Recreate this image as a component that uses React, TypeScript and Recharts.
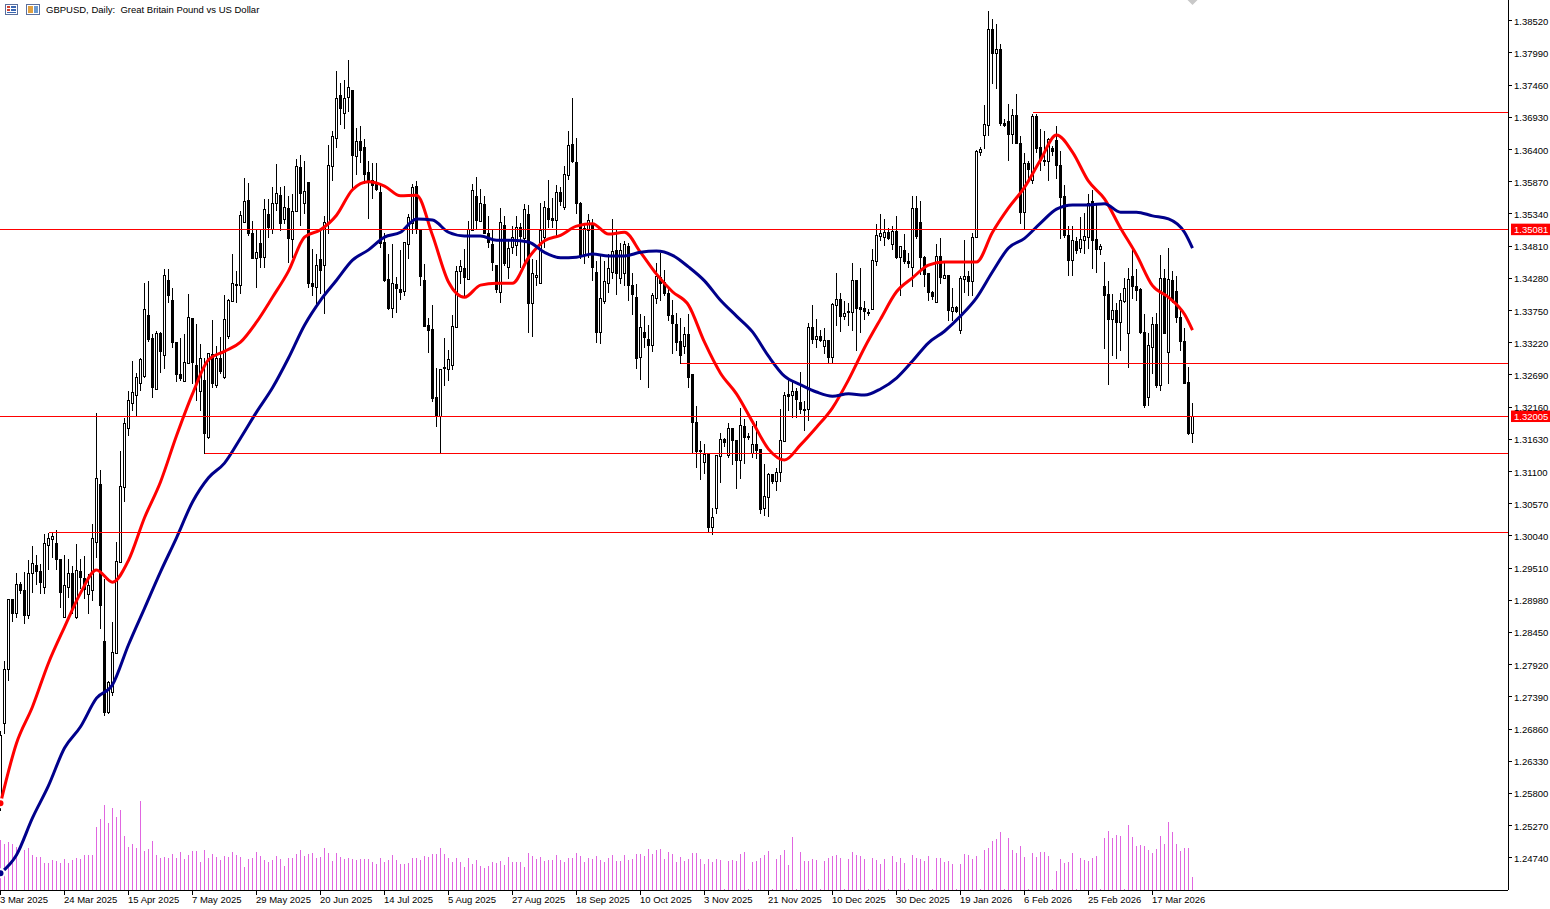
import React from "react";
import { ComposedChart, Bar, Line, XAxis, YAxis, ReferenceLine, ReferenceDot } from "recharts";

const SCALE = 10000;
const highs = [
12684,12799,12899,12899,12944,12929,12945,12965,12988,12973,
12959,13008,13010,13011,13015,12965,12973,12967,12955,12991,
12967,12972,12942,13024,13207,13113,12934,12766,12863,12995,
13145,13199,13243,13293,13273,13298,13421,13424,13337,13342,
13340,13444,13444,13413,13322,13331,13337,13403,13362,13354,
13321,13298,13304,13360,13317,13332,13401,13395,13469,13441,
13540,13594,13586,13523,13510,13510,13559,13559,13579,13617,
13579,13581,13564,13568,13625,13632,13622,13586,13477,13469,
13512,13531,13648,13671,13770,13750,13755,13788,13737,13676,
13679,13658,13622,13619,13619,13586,13503,13469,13485,13431,
13475,13487,13535,13584,13589,13508,13452,13363,13385,13281,
13278,13331,13311,13368,13449,13459,13477,13523,13584,13596,
13576,13564,13531,13510,13449,13545,13531,13494,13515,13531,
13520,13551,13549,13461,13459,13553,13556,13591,13561,13582,
13579,13614,13671,13726,13660,13554,13520,13535,13526,13457,
13466,13457,13469,13526,13510,13487,13490,13487,13438,13419,
13370,13367,13352,13405,13454,13470,13442,13416,13393,13372,
13363,13349,13370,13270,13219,13161,13156,13141,13051,13136,
13174,13166,13191,13182,13163,13215,13197,13174,13186,13194,
13146,13123,13108,13107,13117,13214,13242,13261,13260,13248,
13275,13227,13355,13385,13362,13344,13347,13326,13388,13438,
13405,13391,13388,13454,13426,13446,13391,13378,13477,13518,
13535,13526,13512,13515,13531,13480,13502,13470,13564,13564,
13556,13465,13438,13408,13485,13495,13457,13433,13413,13383,
13433,13492,13441,13503,13640,13645,13714,13869,13856,13847,
13814,13691,13716,13708,13732,13663,13635,13622,13699,13699,
13675,13671,13660,13647,13680,13638,13582,13515,13515,13497,
13530,13536,13568,13574,13549,13485,13456,13424,13403,13388,
13405,13429,13446,13477,13444,13413,13370,13339,13365,13372,
13467,13444,13479,13441,13433,13380,13347,13283,13224,
];
const lows = [
12552,12679,12766,12863,12870,12909,12860,12868,12911,12924,
12909,12909,12949,12968,12949,12886,12870,12903,12876,12868,
12917,12901,12876,12898,12968,12851,12708,12712,12741,12810,
12960,13061,13169,13210,13201,13243,13265,13324,13232,13245,
13273,13279,13388,13314,13258,13260,13258,13288,13255,13227,
13210,13140,13164,13248,13248,13271,13263,13329,13390,13388,
13403,13520,13498,13461,13413,13446,13446,13495,13502,13540,
13507,13518,13454,13462,13538,13515,13535,13413,13400,13387,
13403,13370,13502,13589,13643,13681,13675,13703,13577,13599,
13619,13584,13526,13559,13573,13479,13423,13377,13363,13372,
13393,13400,13461,13502,13502,13416,13349,13306,13225,13184,
13140,13252,13260,13278,13347,13419,13398,13426,13507,13508,
13521,13502,13479,13441,13405,13388,13449,13428,13469,13466,
13446,13452,13339,13332,13416,13419,13479,13512,13512,13495,
13548,13541,13591,13619,13535,13461,13452,13462,13424,13322,
13321,13387,13405,13428,13401,13419,13416,13391,13368,13279,
13261,13314,13248,13307,13387,13391,13400,13359,13304,13309,
13288,13304,13248,13140,13117,13097,13107,13010,13006,13041,
13092,13151,13133,13122,13082,13099,13123,13163,13133,13131,
13041,13038,13036,13090,13079,13094,13159,13210,13199,13199,
13205,13177,13194,13321,13314,13324,13304,13288,13288,13350,
13340,13360,13350,13342,13309,13339,13360,13367,13377,13449,
13490,13482,13492,13475,13461,13400,13452,13446,13415,13494,
13434,13415,13391,13393,13388,13419,13428,13359,13359,13372,
13337,13405,13400,13400,13495,13630,13642,13663,13749,13740,
13679,13678,13622,13650,13650,13518,13510,13589,13584,13635,
13605,13614,13589,13630,13592,13493,13495,13433,13433,13469,
13470,13469,13477,13444,13438,13467,13312,13253,13301,13296,
13309,13388,13281,13395,13391,13337,13215,13219,13271,13248,
13243,13337,13255,13388,13355,13309,13255,13171,13158,
];
const opens = [
12568,12695,12784,12899,12876,12924,12914,12873,12942,12955,
12945,12919,12988,12998,12991,12965,12870,12919,12942,12870,
12945,12934,12907,12914,12993,13089,12830,12713,12746,12810,
12960,13083,13181,13222,13235,13255,13266,13367,13329,13245,
13337,13301,13424,13391,13322,13270,13258,13288,13362,13285,
13242,13260,13166,13303,13252,13296,13265,13332,13390,13418,
13416,13520,13556,13502,13461,13485,13462,13533,13508,13551,
13564,13525,13543,13492,13538,13610,13551,13586,13419,13413,
13459,13449,13520,13612,13658,13729,13699,13726,13737,13628,
13653,13643,13602,13589,13582,13569,13487,13426,13378,13418,
13410,13406,13484,13518,13579,13508,13424,13350,13344,13232,
13201,13281,13278,13284,13347,13439,13444,13426,13507,13563,
13521,13549,13502,13484,13449,13405,13515,13446,13479,13482,
13512,13494,13533,13387,13429,13419,13495,13543,13526,13523,
13569,13545,13597,13648,13619,13551,13467,13507,13518,13438,
13339,13390,13419,13438,13474,13428,13436,13480,13416,13396,
13298,13339,13327,13317,13395,13429,13421,13403,13367,13352,
13324,13316,13335,13270,13191,13145,13125,13140,13018,13049,
13135,13163,13136,13181,13161,13128,13184,13168,13140,13154,
13146,13049,13067,13105,13094,13108,13159,13237,13235,13242,
13224,13212,13212,13347,13327,13332,13316,13326,13298,13383,
13393,13365,13373,13372,13424,13380,13378,13372,13377,13456,
13497,13495,13503,13484,13505,13462,13474,13456,13446,13543,
13520,13462,13436,13405,13388,13464,13428,13433,13373,13380,
13342,13426,13431,13423,13495,13635,13663,13679,13838,13798,
13805,13683,13686,13665,13696,13650,13536,13617,13589,13694,
13643,13622,13620,13642,13655,13614,13563,13498,13457,13489,
13477,13490,13495,13554,13492,13475,13415,13401,13360,13375,
13355,13390,13337,13431,13415,13410,13339,13232,13314,13352,
13252,13428,13306,13424,13406,13363,13324,13257,13173,
];
const closes = [
12676,12784,12899,12876,12924,12914,12873,12942,12959,12945,
12927,12991,13000,13003,12965,12911,12922,12942,12884,12947,
12936,12916,12922,13000,13099,12889,12713,12763,12812,12962,
13085,13189,13227,13240,13265,13294,13377,13327,13248,13337,
13307,13433,13400,13322,13270,13263,13289,13363,13289,13255,
13296,13173,13304,13255,13296,13275,13360,13391,13419,13416,
13531,13555,13502,13461,13470,13462,13541,13512,13551,13568,
13518,13545,13493,13538,13612,13568,13571,13419,13415,13449,
13441,13520,13614,13661,13724,13708,13724,13742,13630,13653,
13638,13599,13586,13581,13574,13485,13424,13378,13419,13411,
13405,13487,13528,13577,13508,13431,13349,13342,13230,13201,
13278,13279,13294,13349,13439,13447,13429,13508,13573,13523,
13551,13502,13487,13454,13410,13520,13452,13477,13495,13512,
13497,13541,13387,13436,13433,13507,13545,13525,13523,13569,
13555,13599,13646,13620,13551,13466,13510,13523,13446,13339,
13395,13423,13444,13472,13436,13474,13484,13416,13401,13296,
13347,13331,13317,13400,13431,13419,13403,13367,13354,13322,
13301,13335,13265,13191,13143,13143,13138,13018,13034,13136,
13163,13158,13181,13161,13128,13186,13166,13166,13154,13145,
13047,13069,13105,13094,13108,13161,13235,13233,13242,13229,
13212,13210,13347,13327,13332,13326,13326,13298,13385,13393,
13365,13370,13372,13424,13378,13377,13373,13370,13457,13498,
13502,13503,13493,13505,13462,13480,13456,13452,13543,13497,
13462,13434,13405,13398,13464,13429,13433,13375,13380,13373,
13428,13431,13423,13495,13637,13640,13681,13838,13798,13805,
13683,13679,13665,13696,13650,13536,13617,13607,13694,13642,
13622,13620,13656,13637,13614,13561,13498,13457,13490,13474,
13492,13497,13551,13490,13475,13480,13400,13360,13375,13355,
13391,13411,13426,13415,13408,13339,13219,13317,13352,13252,
13428,13337,13426,13391,13363,13324,13255,13173,13201,
];
const volumes = [
5000,4600,4800,4600,4270,0,4000,4200,3500,3300,
3300,2700,2700,3000,2900,2700,3100,2700,3000,3200,
3100,3500,3500,3500,6300,7100,8500,6700,8200,7300,
8000,5400,4300,4600,4200,8900,3900,4100,4900,3500,
3200,3300,3200,3600,3200,3800,3100,3500,3900,3900,
2800,4000,3200,3600,3300,3000,3400,3300,3800,3500,
3300,2300,3100,3200,3800,3400,3000,2800,3000,3400,
3100,2400,3200,3200,3600,4000,3400,3600,3700,3200,
3300,4200,3700,2900,3700,3300,3100,3200,3100,3000,
3100,3100,3100,2800,2600,3200,2800,3000,3500,3000,
2600,2600,2700,3200,3200,3000,3400,3300,3600,3600,
4200,3600,3200,2800,3200,2800,2300,3200,2600,3000,
2400,2200,2400,2800,2700,2900,2500,3300,2800,2800,
2800,2300,3700,3400,3100,3300,2900,3000,3000,3500,
3000,2800,3200,3200,3700,3400,2800,3200,3100,3400,
3000,2800,3200,3500,2900,2900,3500,3000,3100,3600,
3600,3400,4100,3600,4000,4100,3100,3800,3600,2800,
3300,2900,3100,3700,3700,3100,2600,3100,2800,3100,
3000,100,2900,3000,2900,3600,3800,100,2800,2900,
3200,3500,3900,100,3100,3500,4000,2500,5300,100,
3800,2900,2900,3100,3000,100,2900,3200,3400,3500,
3200,100,3100,3800,3500,3400,3100,100,3200,3000,
2600,3100,100,3400,2800,3200,2700,100,3500,3200,
3100,2900,3400,100,3200,3200,2800,2900,2600,100,
2600,3600,3500,3100,3400,100,4000,4200,4900,5100,
5800,100,5200,4000,3700,4400,3300,100,3700,3300,
3800,3800,3400,100,1900,3100,2700,2800,3700,100,
3200,3000,2900,3200,3400,100,5200,5900,5200,5500,
5400,100,6500,5300,4400,4500,4400,4000,3700,4100,
5400,4600,6800,5800,4600,3900,4200,4200,1300,
];
const redIndex = [
0,4,8,12,16,20,24,28,32,36,40,44,48,52,56,60,64,68,72,76,80,84,88,92,96,100,104,108,112,116,120,124,128,132,136,140,144,148,
152,156,160,164,168,172,176,180,184,188,192,196,200,204,208,212,216,220,224,228,232,236,240,244,248,252,256,260,264,268,272,276,280,284,288,292,296,298,
];
const redLine = [
12563,12662,12722,12794,12853,12909,12947,12927,12963,13033,13092,13168,13237,13293,13307,13322,13355,13396,13439,13495,
13507,13531,13573,13586,13579,13563,13564,13498,13421,13396,13416,13419,13419,13461,13489,13498,13513,13517,13500,13503,
13470,13434,13405,13383,13322,13271,13237,13191,13146,13128,13153,13182,13214,13260,13313,13360,13405,13428,13449,13454,
13454,13454,13503,13543,13577,13622,13663,13635,13587,13558,13510,13466,13415,13396,13368,13342,
];
const blueLine = [
12448,12478,12539,12592,12654,12689,12736,12758,12824,12884,12944,13000,13059,13099,13123,13164,13207,13247,13296,13350,
13391,13424,13457,13474,13495,13503,13525,13523,13503,13497,13497,13490,13490,13487,13470,13461,13462,13467,13464,13464,
13470,13472,13465,13446,13423,13391,13365,13339,13299,13266,13252,13240,13233,13237,13235,13245,13263,13291,13321,13340,
13365,13395,13438,13477,13493,13518,13541,13548,13548,13550,13536,13536,13530,13525,13503,13477,
];
const priceTicks = [
1.3852,1.3799,1.3746,1.3693,1.364,1.3587,1.3534,1.3481,1.3428,1.3375,1.3322,1.3269,1.3216,1.3163,
1.311,1.3057,1.3004,1.2951,1.2898,1.2845,1.2792,1.2739,1.2686,1.2633,1.258,1.2527,1.2474,
];
const dateLabels = [
"3 Mar 2025","24 Mar 2025","15 Apr 2025","7 May 2025","29 May 2025","20 Jun 2025","14 Jul 2025","5 Aug 2025","27 Aug 2025","18 Sep 2025",
"10 Oct 2025","3 Nov 2025","21 Nov 2025","10 Dec 2025","30 Dec 2025","19 Jan 2026","6 Feb 2026","25 Feb 2026","17 Mar 2026",
];
const dateTickIndex = dateLabels.map((_, k) => k * 16);
const fullLevels = [1.35081, 1.32005];
const partialLevels = [
  { start: 12, value: 1.30087 },
  { start: 51, value: 1.31396 },
  { start: 170, value: 1.32873 },
  { start: 258, value: 1.37001 },
];
const PRICE_DOMAIN = [1.24203, 1.38853];
const VOL_DOMAIN = [0, 89000];
const X_DOMAIN = [-0.125, 376.875];
const FONT = "'Liberation Sans', Arial, sans-serif";
const TEXT_SIZE = 9.5;

const rows = highs.map((h, i) => {
  const ri = redIndex.indexOf(i);
  return {
    i,
    high: h / SCALE,
    low: lows[i] / SCALE,
    open: opens[i] / SCALE,
    close: closes[i] / SCALE,
    volume: volumes[i],
    red: ri >= 0 ? redLine[ri] / SCALE : null,
    blue: ri >= 0 ? blueLine[ri] / SCALE : null,
  };
});

function Candle(props: any) {
  const { x, y, width, height, payload } = props;
  if (!payload || height == null) return null;
  const cx = Math.floor(x + width / 2) + 0.5;
  const at = (p: number) => y + (height * (payload.high - p)) / (payload.high - payload.low);
  const px = (p: number) => Math.round(at(p)) + 0.5;
  const top = Math.max(payload.open, payload.close);
  const bottom = Math.min(payload.open, payload.close);
  const bull = payload.close >= payload.open;
  return (
    <g shapeRendering="crispEdges">
      <line x1={cx} x2={cx} y1={px(payload.high)} y2={px(payload.low)} stroke="#000" strokeWidth={1} />
      <rect x={cx - 1} width={2} y={px(top)} height={Math.max(px(bottom) - px(top), 1)} fill={bull ? "#fff" : "#000"} stroke="#000" strokeWidth={1} />
    </g>
  );
}

function VolumeBar(props: any) {
  const { x, y, width, height } = props;
  return <rect x={Math.floor(x + width / 2)} y={y} width={1} height={height} fill="#e066e0" shapeRendering="crispEdges" />;
}

function DateTick(props: any) {
  const { x, payload } = props;
  const label = dateLabels[dateTickIndex.indexOf(payload.value)];
  return (
    <g shapeRendering="crispEdges">
      <line x1={Math.floor(x) + 0.5} x2={Math.floor(x) + 0.5} y1={890} y2={895} stroke="#000" />
      <text x={x - 0.5} y={903} textAnchor="start" fontFamily={FONT} fontSize={TEXT_SIZE} fill="#000">{label}</text>
    </g>
  );
}

function PriceTick(props: any) {
  const { y, payload } = props;
  return (
    <g shapeRendering="crispEdges">
      <line x1={1508} x2={1512} y1={Math.round(y) + 0.5} y2={Math.round(y) + 0.5} stroke="#000" />
      <text x={1514} y={y + 4.5} textAnchor="start" fontFamily={FONT} fontSize={TEXT_SIZE} fill="#000">{payload.value.toFixed(5)}</text>
    </g>
  );
}

const priceTag = (value: number) => (props: any) => {
  const y = props.viewBox.y;
  return (
    <g>
      <rect x={1511} y={y - 5.5} width={39} height={11.5} fill="#ff0000" />
      <text x={1514} y={y + 3.8} fontFamily={FONT} fontSize={TEXT_SIZE} fill="#fff">{value.toFixed(5)}</text>
    </g>
  );
};

function Diamond(props: any) {
  const { cx, cy } = props;
  return <polygon points={`${cx - 5},${cy} ${cx},${cy - 5} ${cx + 5},${cy} ${cx},${cy + 5}`} fill="#c8c8c8" />;
}

function Icons() {
  return (
    <svg width={40} height={12} style={{ position: "absolute", left: 4, top: 4 }} shapeRendering="crispEdges">
      <rect x={1.5} y={0.5} width={12} height={10} fill="#fff" stroke="#5a6f9c" />
      <rect x={3} y={2} width={3} height={2} fill="#d04030" />
      <rect x={7} y={2} width={5} height={2} fill="#3a66b0" />
      <rect x={3} y={5} width={3} height={2} fill="#d04030" />
      <rect x={7} y={5} width={5} height={2} fill="#3a66b0" />
      <rect x={3} y={8} width={9} height={1} fill="#3a66b0" />
      <rect x={22.5} y={0.5} width={13} height={10} fill="#fff" stroke="#5a6f9c" />
      <rect x={24} y={2} width={5} height={7} fill="#e0a040" />
      <rect x={30} y={2} width={4} height={7} fill="#6a9ad0" />
    </svg>
  );
}

export default function App() {
  return (
    <div style={{ position: "absolute", left: 0, top: 0, width: 1550, height: 909, background: "#fff", overflow: "hidden" }}>
      <ComposedChart width={1550} height={909} data={rows} margin={{ top: 0, right: 0, bottom: 0, left: 0 }}>
        <XAxis
          dataKey="i" type="number" xAxisId="x" domain={X_DOMAIN} allowDataOverflow
          ticks={dateTickIndex} interval={0} height={19} tick={<DateTick />} tickLine={false}
          axisLine={{ stroke: "#000", strokeWidth: 1, shapeRendering: "crispEdges" }}
        />
        <XAxis dataKey="i" type="number" xAxisId="xv" domain={X_DOMAIN} allowDataOverflow hide />
        <YAxis
          yAxisId="price" orientation="right" type="number" domain={PRICE_DOMAIN} allowDataOverflow
          ticks={priceTicks} interval={0} width={42} tick={<PriceTick />} tickLine={false}
          axisLine={{ stroke: "#000", strokeWidth: 1, shapeRendering: "crispEdges" }}
        />
        <YAxis
          yAxisId="vol" orientation="left" type="number" domain={VOL_DOMAIN} allowDataOverflow width={0}
          tick={false} tickLine={false} axisLine={{ stroke: "#000", strokeWidth: 2 }}
        />
        <Bar xAxisId="xv" yAxisId="vol" dataKey="volume" barSize={1} shape={<VolumeBar />} isAnimationActive={false} />
        <Bar
          xAxisId="x" yAxisId="price" dataKey={(d: any) => [d.low, d.high]} barSize={3}
          shape={<Candle />} isAnimationActive={false}
        />
        <Line xAxisId="x" yAxisId="price" dataKey="red" type="monotone" connectNulls dot={false} stroke="#ff0000" strokeWidth={3} isAnimationActive={false} />
        <Line xAxisId="x" yAxisId="price" dataKey="blue" type="monotone" connectNulls dot={false} stroke="#00008b" strokeWidth={3} isAnimationActive={false} />
        {partialLevels.map((l) => (
          <ReferenceLine
            key={l.start} xAxisId="x" yAxisId="price" stroke="#ff0000" strokeWidth={1} shapeRendering="crispEdges"
            segment={[{ x: l.start, y: l.value }, { x: X_DOMAIN[1], y: l.value }]}
          />
        ))}
        {fullLevels.map((v) => (
          <ReferenceLine
            key={v} xAxisId="x" yAxisId="price" y={v} stroke="#ff0000" strokeWidth={1} shapeRendering="crispEdges"
            label={priceTag(v)}
          />
        ))}
        <ReferenceDot xAxisId="x" yAxisId="price" x={298} y={PRICE_DOMAIN[1]} shape={<Diamond />} ifOverflow="visible" />
      </ComposedChart>
      <Icons />
      <div style={{ position: "absolute", left: 46, top: 4, fontFamily: FONT, fontSize: TEXT_SIZE, lineHeight: "12px", whiteSpace: "pre", color: "#000" }}>
        {"GBPUSD, Daily:  Great Britain Pound vs US Dollar"}
      </div>
    </div>
  );
}
